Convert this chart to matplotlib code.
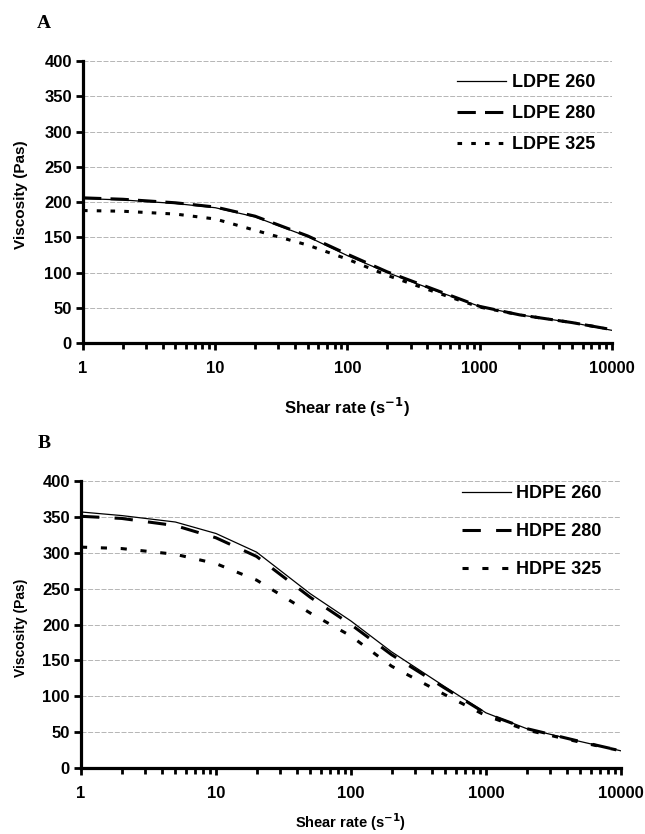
import matplotlib.pyplot as plt
import numpy as np

plt.rcParams["font.family"] = "Liberation Sans"

# shear rate (1/s)
shear = [1, 2, 5, 10, 20, 50, 100, 200, 500, 1000, 2000, 5000, 10000]

# panel A, LDPE
ldpe_260 = [205, 203, 198, 192, 179, 151, 124, 100, 72, 52, 40, 29, 18]
ldpe_280 = [206, 204, 199, 193, 180, 152, 126, 101, 73, 52, 40, 29, 19]
ldpe_325 = [188, 187, 183, 176, 160, 139, 119, 96, 70, 51, 40, 29, 19]

# panel B, HDPE
hdpe_260 = [357, 352, 343, 327, 301, 243, 205, 162, 113, 77, 55, 37, 24]
hdpe_280 = [351, 348, 338, 321, 295, 238, 200, 158, 111, 76, 55, 37, 24]
hdpe_325 = [308, 306, 298, 285, 262, 216, 184, 142, 102, 73, 53, 36, 24]

yticks = [0, 50, 100, 150, 200, 250, 300, 350, 400]
xticks = [1, 10, 100, 1000, 10000]


def style_axes(ax, xlab_size, xlab_pad, ylab_size):
    ax.set_xscale('log')
    ax.set_xlim(1, 10000)
    ax.set_ylim(0, 400)
    ax.set_yticks(yticks)
    ax.set_xticks(xticks)
    ax.set_xticklabels([str(t) for t in xticks])
    for s in ['top', 'right']:
        ax.spines[s].set_visible(False)
    for s in ['left', 'bottom']:
        ax.spines[s].set_linewidth(2.3)
    ax.tick_params(axis='both', which='major', direction='out', width=2, length=5,
                   labelsize=12)
    ax.tick_params(axis='x', which='minor', direction='out', width=2, length=4)
    ax.tick_params(axis='x', which='major', pad=8)
    ax.tick_params(axis='y', which='major', pad=3)
    for lab in ax.get_xticklabels() + ax.get_yticklabels():
        lab.set_fontweight('bold')
    ax.grid(axis='y', color='#aaaaaa', linewidth=0.6, linestyle=(0, (6, 2)))
    ax.set_axisbelow(True)
    ax.set_ylabel('Viscosity (Pas)', fontsize=ylab_size, fontweight='bold')
    ax.set_xlabel('Shear rate (s$^{\\mathbf{-1}}$)', fontsize=xlab_size, fontweight='bold',
                  labelpad=xlab_pad)


fig = plt.figure(figsize=(6.45, 8.34), dpi=100)

axA = fig.add_axes([0.1287, 0.5887, 0.820, 0.338])
axA.plot(shear, ldpe_260, color='black', linewidth=0.9, label='LDPE 260')
axA.plot(shear, ldpe_280, color='black', linewidth=2.2, linestyle=(0, (6, 3)), label='LDPE 280')
axA.plot(shear, ldpe_325, color='black', linewidth=2.2, linestyle=(0, (1.5, 3)), label='LDPE 325')
style_axes(axA, 12, 14, 11)
axA.yaxis.set_label_coords(-0.104, 0.525)
axA.legend(loc='upper right', bbox_to_anchor=(595 / 645, 1 - 74 / 834),
           bbox_transform=fig.transFigure, frameon=False, borderpad=0, borderaxespad=0,
           handlelength=2.7, handletextpad=0.3, labelspacing=0.78,
           prop={'weight': 'bold', 'size': 13})

axB = fig.add_axes([0.1256, 0.0791, 0.837, 0.344])
axB.plot(shear, hdpe_260, color='black', linewidth=0.9, label='HDPE 260')
axB.plot(shear, hdpe_280, color='black', linewidth=2.2, linestyle=(0, (6, 5)), label='HDPE 280')
axB.plot(shear, hdpe_325, color='black', linewidth=2.2, linestyle=(0, (2, 4.5)), label='HDPE 325')
style_axes(axB, 10.5, 7, 10)
axB.yaxis.set_label_coords(-0.098, 0.49)
axB.legend(loc='upper right', bbox_to_anchor=(601 / 645, 1 - 485 / 834),
           bbox_transform=fig.transFigure, frameon=False, borderpad=0, borderaxespad=0,
           handlelength=2.7, handletextpad=0.28, labelspacing=1.17,
           prop={'weight': 'bold', 'size': 13})

fig.text(37 / 645, 1 - 28 / 834, 'A', fontsize=14, fontweight='bold',
         family='Liberation Serif', va='baseline')
fig.text(38 / 645, 1 - 448 / 834, 'B', fontsize=14, fontweight='bold',
         family='Liberation Serif', va='baseline')

fig.savefig('out.png', dpi=100)
